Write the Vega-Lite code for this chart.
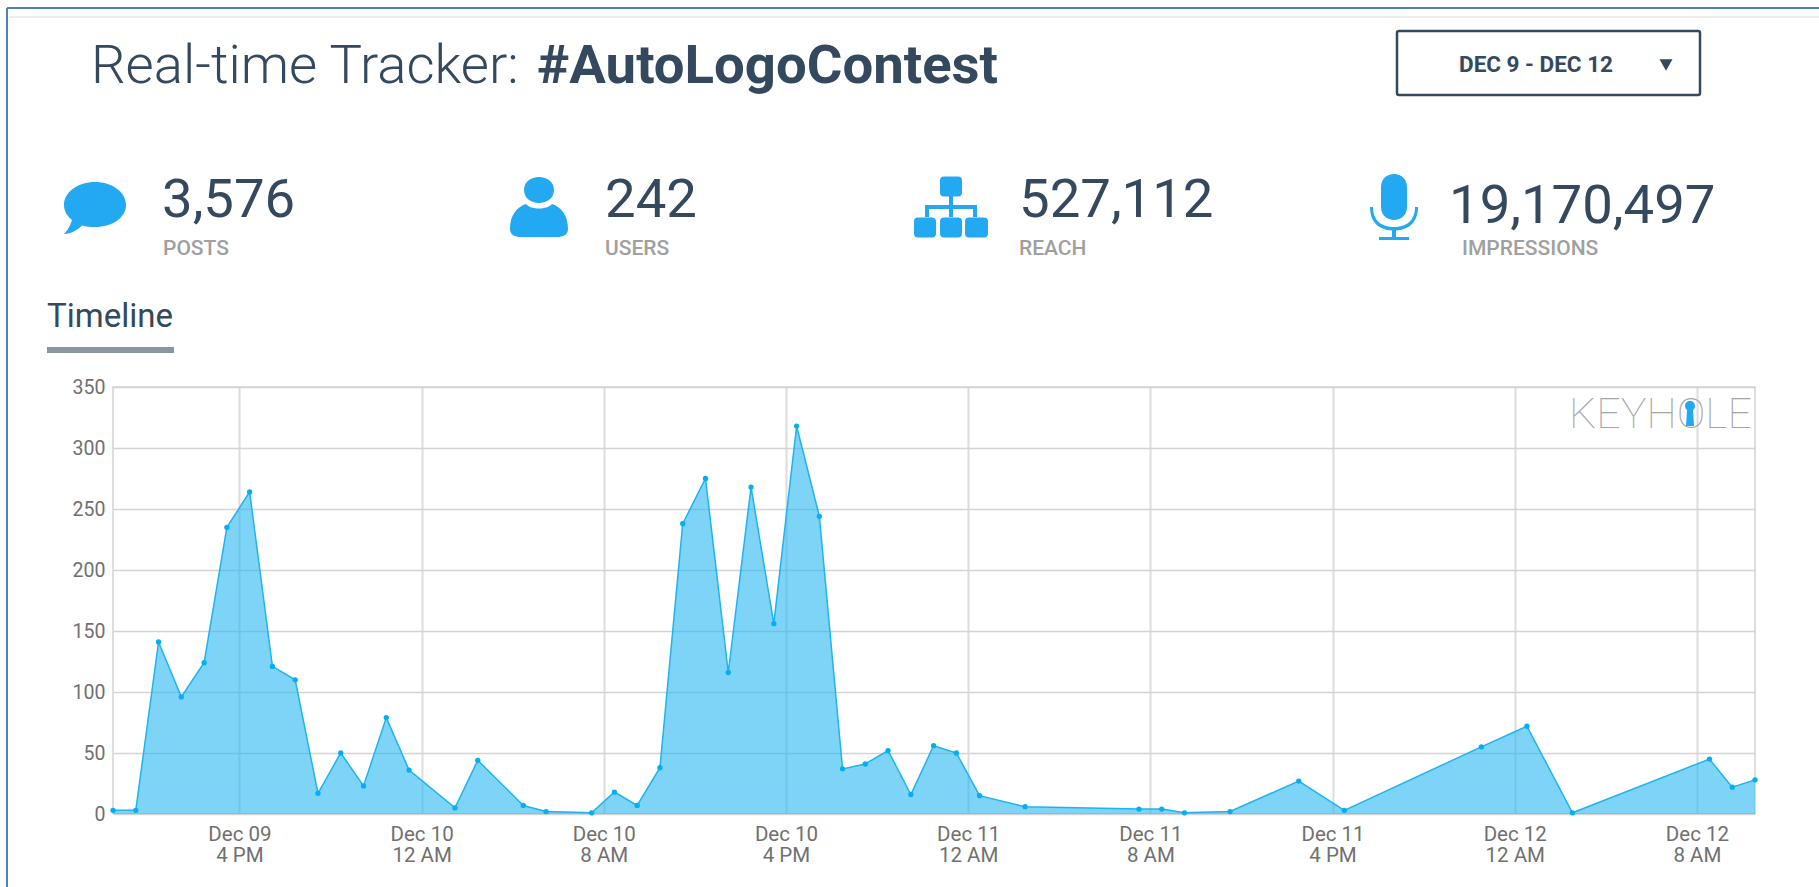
{"$schema":"https://vega.github.io/schema/vega-lite/v6.json","width":1642,"height":427,"autosize":"none","padding":{"left":113,"top":387,"right":64,"bottom":73},"background":"#ffffff","config":{"view":{"stroke":"#d4d4d4","strokeWidth":1.5},"font":"Roboto"},"datasets":{"posts":[{"t":"2015-12-09T10:27:00Z","posts":3},{"t":"2015-12-09T11:27:00Z","posts":3},{"t":"2015-12-09T12:27:00Z","posts":141},{"t":"2015-12-09T13:27:00Z","posts":96},{"t":"2015-12-09T14:27:00Z","posts":124},{"t":"2015-12-09T15:27:00Z","posts":235},{"t":"2015-12-09T16:27:00Z","posts":264},{"t":"2015-12-09T17:27:00Z","posts":121},{"t":"2015-12-09T18:27:00Z","posts":110},{"t":"2015-12-09T19:27:00Z","posts":17},{"t":"2015-12-09T20:27:00Z","posts":50},{"t":"2015-12-09T21:27:00Z","posts":23},{"t":"2015-12-09T22:27:00Z","posts":79},{"t":"2015-12-09T23:27:00Z","posts":36},{"t":"2015-12-10T01:28:00Z","posts":5},{"t":"2015-12-10T02:28:00Z","posts":44},{"t":"2015-12-10T04:28:00Z","posts":7},{"t":"2015-12-10T05:28:00Z","posts":2},{"t":"2015-12-10T07:28:00Z","posts":1},{"t":"2015-12-10T08:28:00Z","posts":18},{"t":"2015-12-10T09:28:00Z","posts":7},{"t":"2015-12-10T10:28:00Z","posts":38},{"t":"2015-12-10T11:28:00Z","posts":238},{"t":"2015-12-10T12:28:00Z","posts":275},{"t":"2015-12-10T13:28:00Z","posts":116},{"t":"2015-12-10T14:28:00Z","posts":268},{"t":"2015-12-10T15:28:00Z","posts":156},{"t":"2015-12-10T16:28:00Z","posts":318},{"t":"2015-12-10T17:28:00Z","posts":244},{"t":"2015-12-10T18:29:00Z","posts":37},{"t":"2015-12-10T19:29:00Z","posts":41},{"t":"2015-12-10T20:29:00Z","posts":52},{"t":"2015-12-10T21:29:00Z","posts":16},{"t":"2015-12-10T22:29:00Z","posts":56},{"t":"2015-12-10T23:29:00Z","posts":50},{"t":"2015-12-11T00:30:00Z","posts":15},{"t":"2015-12-11T02:30:00Z","posts":6},{"t":"2015-12-11T07:30:00Z","posts":4},{"t":"2015-12-11T08:30:00Z","posts":4},{"t":"2015-12-11T09:30:00Z","posts":1},{"t":"2015-12-11T11:30:00Z","posts":2},{"t":"2015-12-11T14:31:00Z","posts":27},{"t":"2015-12-11T16:31:00Z","posts":3},{"t":"2015-12-11T22:32:00Z","posts":55},{"t":"2015-12-12T00:32:00Z","posts":72},{"t":"2015-12-12T02:32:00Z","posts":1},{"t":"2015-12-12T08:33:00Z","posts":45},{"t":"2015-12-12T09:33:00Z","posts":22},{"t":"2015-12-12T10:33:00Z","posts":28}],"span":[{"from":0,"to":1}],"kpis":[{"slot":1,"metric":"POSTS","value":"3,576"},{"slot":2,"metric":"USERS","value":"242"},{"slot":3,"metric":"REACH","value":"527,112"},{"slot":4,"metric":"IMPRESSIONS","value":"19,170,497"}],"icons":[{"slot":1,"icon":"POSTS"},{"slot":2,"icon":"USERS"},{"slot":3,"icon":"REACH"},{"slot":4,"icon":"IMPRESSIONS"},{"slot":5,"icon":"KEYHOLE"}]},"layer":[{"data":{"name":"posts"},"encoding":{"x":{"field":"t","type":"temporal","title":null,"scale":{"type":"utc","domain":[{"year":2015,"month":12,"date":9,"hours":10,"minutes":27,"utc":true},{"year":2015,"month":12,"date":12,"hours":10,"minutes":33,"utc":true}]},"axis":{"values":[{"year":2015,"month":12,"date":9,"hours":16,"utc":true},{"year":2015,"month":12,"date":10,"hours":0,"utc":true},{"year":2015,"month":12,"date":10,"hours":8,"utc":true},{"year":2015,"month":12,"date":10,"hours":16,"utc":true},{"year":2015,"month":12,"date":11,"hours":0,"utc":true},{"year":2015,"month":12,"date":11,"hours":8,"utc":true},{"year":2015,"month":12,"date":11,"hours":16,"utc":true},{"year":2015,"month":12,"date":12,"hours":0,"utc":true},{"year":2015,"month":12,"date":12,"hours":8,"utc":true}],"labelExpr":"[utcFormat(datum.value,'%b %d'),utcFormat(datum.value,'%-I %p')]","labelFont":"Roboto","labelFontSize":20.5,"labelColor":"#707070","labelLineHeight":21,"labelPadding":10,"ticks":false,"domain":false,"grid":true,"gridColor":"#dcdcdc","gridWidth":2,"labelFlush":false,"labelOverlap":false}},"y":{"field":"posts","type":"quantitative","title":null,"scale":{"domain":[0,350],"nice":false},"axis":{"values":[0,50,100,150,200,250,300,350],"labelFont":"Roboto","labelFontSize":19.5,"labelColor":"#707070","labelPadding":8,"ticks":false,"domain":false,"grid":true,"gridColor":"#d4d4d4","gridWidth":1.5}}},"layer":[{"mark":{"type":"area","color":"#26b7f2","opacity":0.6}},{"mark":{"type":"line","color":"#1fb4ee","strokeWidth":1.5}},{"mark":{"type":"point","filled":true,"color":"#05aef0","opacity":1,"size":28}}]},{"data":{"name":"span"},"mark":{"type":"rule","color":"#4f81bd","strokeWidth":2},"encoding":{"x":{"field":"from","type":"quantitative","axis":null,"scale":{"domain":[0,1],"range":[-106,-106],"zero":false,"nice":false}},"y":{"field":"from","type":"quantitative","axis":null,"scale":{"domain":[0,1],"range":[-379,500],"zero":false,"nice":false}},"y2":{"field":"to"}}},{"data":{"name":"span"},"mark":{"type":"rule","color":"#4f81bd","strokeWidth":2},"encoding":{"x":{"field":"from","type":"quantitative","axis":null,"scale":{"domain":[0,1],"range":[-106,1706],"zero":false,"nice":false}},"x2":{"field":"to"},"y":{"field":"from","type":"quantitative","axis":null,"scale":{"domain":[0,1],"range":[-379,-379],"zero":false,"nice":false}}}},{"data":{"name":"span"},"mark":{"type":"rule","color":"#ececec","strokeWidth":2},"encoding":{"x":{"field":"from","type":"quantitative","axis":null,"scale":{"domain":[0,1],"range":[-104,1706],"zero":false,"nice":false}},"x2":{"field":"to"},"y":{"field":"from","type":"quantitative","axis":null,"scale":{"domain":[0,1],"range":[-370,-370],"zero":false,"nice":false}}}},{"data":{"name":"span"},"mark":{"type":"rule","color":"#8b95a1","strokeWidth":6},"encoding":{"x":{"field":"from","type":"quantitative","axis":null,"scale":{"domain":[0,1],"range":[-66,61],"zero":false,"nice":false}},"x2":{"field":"to"},"y":{"field":"from","type":"quantitative","axis":null,"scale":{"domain":[0,1],"range":[-37,-37],"zero":false,"nice":false}}}},{"data":{"name":"span"},"mark":{"type":"rect","fill":null,"stroke":"#34495e","strokeWidth":2.5,"cornerRadius":2},"encoding":{"x":{"field":"from","type":"quantitative","axis":null,"scale":{"domain":[0,1],"range":[1284,1587],"zero":false,"nice":false}},"x2":{"field":"to"},"y":{"field":"from","type":"quantitative","axis":null,"scale":{"domain":[0,1],"range":[-356,-292],"zero":false,"nice":false}},"y2":{"field":"to"}}},{"data":{"values":[{"slot":1,"text":"Real-time Tracker:"}]},"mark":{"type":"text","font":"Roboto","fontWeight":300,"fontSize":54.5,"color":"#34495e","align":"left","baseline":"alphabetic"},"encoding":{"text":{"field":"text"},"x":{"field":"slot","type":"quantitative","axis":null,"scale":{"domain":[0,1],"range":[-22,-22],"zero":false,"nice":false}},"y":{"field":"slot","type":"quantitative","axis":null,"scale":{"domain":[0,1],"range":[-304,-304],"zero":false,"nice":false}}}},{"data":{"values":[{"slot":1,"text":"#AutoLogoContest"}]},"mark":{"type":"text","font":"Roboto","fontWeight":700,"fontSize":54.5,"color":"#34495e","align":"left","baseline":"alphabetic"},"encoding":{"text":{"field":"text"},"x":{"field":"slot","type":"quantitative","axis":null,"scale":{"domain":[0,1],"range":[424,424],"zero":false,"nice":false}},"y":{"field":"slot","type":"quantitative","axis":null,"scale":{"domain":[0,1],"range":[-304,-304],"zero":false,"nice":false}}}},{"data":{"values":[{"slot":1,"text":"DEC 9 - DEC 12"}]},"mark":{"type":"text","font":"Roboto","fontWeight":700,"fontSize":22.5,"color":"#34495e","align":"center","baseline":"alphabetic"},"encoding":{"text":{"field":"text"},"x":{"field":"slot","type":"quantitative","axis":null,"scale":{"domain":[0,1],"range":[1423,1423],"zero":false,"nice":false}},"y":{"field":"slot","type":"quantitative","axis":null,"scale":{"domain":[0,1],"range":[-315,-315],"zero":false,"nice":false}}}},{"data":{"values":[{"slot":1,"icon":"caret"}]},"mark":{"type":"point","shape":"triangle-down","filled":true,"color":"#34495e","opacity":1,"size":170},"encoding":{"x":{"field":"slot","type":"quantitative","axis":null,"scale":{"domain":[0,1],"range":[1553,1553],"zero":false,"nice":false}},"y":{"field":"slot","type":"quantitative","axis":null,"scale":{"domain":[0,1],"range":[-322,-322],"zero":false,"nice":false}}}},{"data":{"name":"kpis"},"mark":{"type":"text","font":"Roboto","fontWeight":400,"fontSize":54.5,"color":"#34495e","align":"left","baseline":"alphabetic"},"encoding":{"text":{"field":"value"},"x":{"field":"slot","type":"quantitative","axis":null,"scale":{"domain":[1,2,3,4],"range":[49,492,906,1336],"zero":false,"nice":false}},"y":{"field":"slot","type":"quantitative","axis":null,"scale":{"domain":[1,2,3,4],"range":[-170,-170,-170,-164],"zero":false,"nice":false}}}},{"data":{"name":"kpis"},"mark":{"type":"text","font":"Roboto","fontWeight":500,"fontSize":21,"color":"#a0a0a0","align":"left","baseline":"alphabetic"},"encoding":{"text":{"field":"metric"},"x":{"field":"slot","type":"quantitative","axis":null,"scale":{"domain":[1,2,3,4],"range":[50,492,906,1349],"zero":false,"nice":false}},"y":{"field":"slot","type":"quantitative","axis":null,"scale":{"domain":[1,2,3,4],"range":[-132,-132,-132,-132],"zero":false,"nice":false}}}},{"data":{"values":[{"slot":1,"text":"Timeline"}]},"mark":{"type":"text","font":"Roboto","fontWeight":400,"fontSize":33,"color":"#34495e","align":"left","baseline":"alphabetic"},"encoding":{"text":{"field":"text"},"x":{"field":"slot","type":"quantitative","axis":null,"scale":{"domain":[0,1],"range":[-66,-66],"zero":false,"nice":false}},"y":{"field":"slot","type":"quantitative","axis":null,"scale":{"domain":[0,1],"range":[-60,-60],"zero":false,"nice":false}}}},{"data":{"values":[{"slot":1,"text":"KEYHOLE"}]},"mark":{"type":"text","font":"Roboto","fontWeight":100,"fontSize":43,"color":"#a6a6a6","align":"right","baseline":"alphabetic"},"encoding":{"text":{"field":"text"},"x":{"field":"slot","type":"quantitative","axis":null,"scale":{"domain":[0,1],"range":[1639,1639],"zero":false,"nice":false}},"y":{"field":"slot","type":"quantitative","axis":null,"scale":{"domain":[0,1],"range":[41,41],"zero":false,"nice":false}}}},{"data":{"name":"icons"},"mark":{"type":"point","filled":true,"opacity":1,"size":4,"color":"#22a9f1","strokeWidth":0},"encoding":{"x":{"field":"slot","type":"quantitative","axis":null,"scale":{"domain":[1,2,3,4,5],"range":[-18,426,838,1281,1577],"zero":false,"nice":false}},"y":{"field":"slot","type":"quantitative","axis":null,"scale":{"domain":[1,2,3,4,5],"range":[-180,-180,-180,-180,26],"zero":false,"nice":false}},"shape":{"field":"icon","type":"nominal","legend":null,"scale":{"domain":["POSTS","USERS","REACH","IMPRESSIONS","KEYHOLE"],"range":["M-31,-2C-31,-15 -17,-25 0,-25C17,-25 31,-15 31,-2C31,11 17,20 0,20C-5,20 -9,19.5 -13,18.5C-18,23 -24,27 -31,27C-26,22 -24,16 -23,13C-28,9 -31,4 -31,-2Z","M-15,-17C-15,-25 -8,-30 0,-30C8,-30 15,-25 15,-17C15,-9 8,-4 0,-4C-8,-4 -15,-9 -15,-17ZM-29,22C-29,8 -22,0 -13,-3C-8,3 8,3 13,-3C22,0 29,8 29,22C29,28 24,30 18,30L-18,30C-24,30 -29,28 -29,22Z","M-7,-30.5H7Q11,-30.5 11,-26.5V-14.5Q11,-10.5 7,-10.5H2V-2H26V10H22V2H2V10H-2V2H-22V10H-26V-2H-2V-10.5H-7Q-11,-10.5 -11,-14.5V-26.5Q-11,-30.5 -7,-30.5ZM-33,10.5H-19Q-15,10.5 -15,14.5V26.5Q-15,30.5 -19,30.5H-33Q-37,30.5 -37,26.5V14.5Q-37,10.5 -33,10.5ZM-7,10.5H7Q11,10.5 11,14.5V26.5Q11,30.5 7,30.5H-7Q-11,30.5 -11,26.5V14.5Q-11,10.5 -7,10.5ZM18,10.5H33Q37,10.5 37,14.5V26.5Q37,30.5 33,30.5H18Q14,30.5 14,26.5V14.5Q14,10.5 18,10.5Z","M-13,-20C-13,-28 -7,-33 0,-33C7,-33 13,-28 13,-20V0C13,8 7,13 0,13C-7,13 -13,8 -13,0ZM-24,0L-21,0C-21,14 -12,20 0,20C12,20 21,14 21,0L24,0C24,16 14,23 2,23.5L2,30L15,30L15,33L-15,33L-15,30L-2,30L-2,23.5C-14,23 -24,16 -24,0Z","M-5,-7C-5,-10 -3,-12 0,-12C3,-12 5,-10 5,-7C5,-5 4,-4 3,-3L4,13H-4L-3,-3C-4,-4 -5,-5 -5,-7Z"]}}}}],"resolve":{"scale":{"x":"independent","y":"independent","shape":"independent"}}}
